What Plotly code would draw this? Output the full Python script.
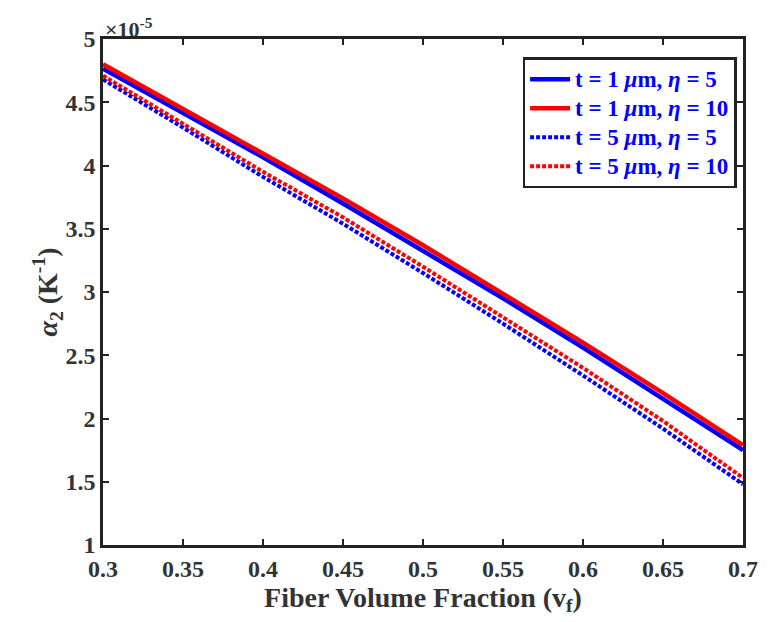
import plotly.graph_objects as go

vf = [0.30, 0.35, 0.40, 0.45, 0.50, 0.55, 0.60, 0.65, 0.70]
# alpha_2 values in units of 1e-5 K^-1
t1_eta5 = [4.765, 4.415, 4.065, 3.70, 3.33, 2.95, 2.56, 2.16, 1.75]
t1_eta10 = [4.80, 4.45, 4.10, 3.74, 3.37, 2.99, 2.60, 2.20, 1.79]
t5_eta5 = [4.68, 4.30, 3.91, 3.54, 3.15, 2.75, 2.34, 1.92, 1.48]
t5_eta10 = [4.71, 4.33, 3.95, 3.59, 3.20, 2.80, 2.40, 1.98, 1.53]

names = ["t = 1 <i>μ</i>m, <i>η</i> = 5", "t = 1 <i>μ</i>m, <i>η</i> = 10",
         "t = 5 <i>μ</i>m, <i>η</i> = 5", "t = 5 <i>μ</i>m, <i>η</i> = 10"]
series = [t1_eta5, t1_eta10, t5_eta5, t5_eta10]
colors = ["#0000ff", "#ff0000", "#0000ff", "#ff0000"]
dashes = ["solid", "solid", "4px,2px", "4px,2px"]
widths = [4.5, 4.5, 4, 4]

xt = [0.3, 0.35, 0.4, 0.45, 0.5, 0.55, 0.6, 0.65, 0.7]
xt_lab = ["0.3", "0.35", "0.4", "0.45", "0.5", "0.55", "0.6", "0.65", "0.7"]
yt = [1, 1.5, 2, 2.5, 3, 3.5, 4, 4.5, 5]
yt_lab = ["1", "1.5", "2", "2.5", "3", "3.5", "4", "4.5", "5"]

fig = go.Figure()
for n, s, c, d, w in zip(names, series, colors, dashes, widths):
    fig.add_trace(go.Scatter(x=vf, y=s, mode="lines",
                             name='<span style="font-size:23px">%s</span>' % n,
                             line=dict(color=c, dash=d, width=w)))

font_family = "Liberation Serif, Times New Roman, serif"
axis_common = dict(showline=True, linecolor="#222", linewidth=2.5, mirror="ticks",
                   ticks="inside", ticklen=6, tickwidth=2, tickcolor="#222",
                   showgrid=False, zeroline=False,
                   tickfont=dict(family=font_family, size=24, color="#333"))

fig.update_layout(
    width=770, height=622,
    margin=dict(l=103, r=17, t=39, b=77),
    paper_bgcolor="white", plot_bgcolor="white",
    font=dict(family=font_family),
    xaxis=dict(range=[0.3, 0.7], tickvals=xt,
               ticktext=["<b>%s</b>" % t for t in xt_lab],
               title=dict(text="<b>Fiber Volume Fraction (v<sub>f</sub>)</b>",
                          font=dict(family=font_family, size=28, color="#333"), standoff=0),
               **axis_common),
    yaxis=dict(range=[1, 5], tickvals=yt,
               ticktext=["<b>%s</b>" % t for t in yt_lab],
               title=dict(text="<b><i>α</i><sub>2</sub> (K<sup>-1</sup>)</b>",
                          font=dict(family=font_family, size=28, color="#333"), standoff=0),
               **axis_common),
    legend=dict(x=0.99, y=0.964, xanchor="right", yanchor="top",
                bgcolor="white", bordercolor="#222", borderwidth=2.5,
                font=dict(family=font_family, size=20, color="#0000ff", weight="bold"),
                tracegroupgap=0, itemwidth=40),
    showlegend=True,
)
fig.add_annotation(text="<b>×10<sup>-5</sup></b>", xref="paper", yref="paper",
                   x=0, y=1, xanchor="left", yanchor="bottom", showarrow=False,
                   font=dict(family=font_family, size=22, color="#333"), yshift=-5)

fig.write_html("out.html")
